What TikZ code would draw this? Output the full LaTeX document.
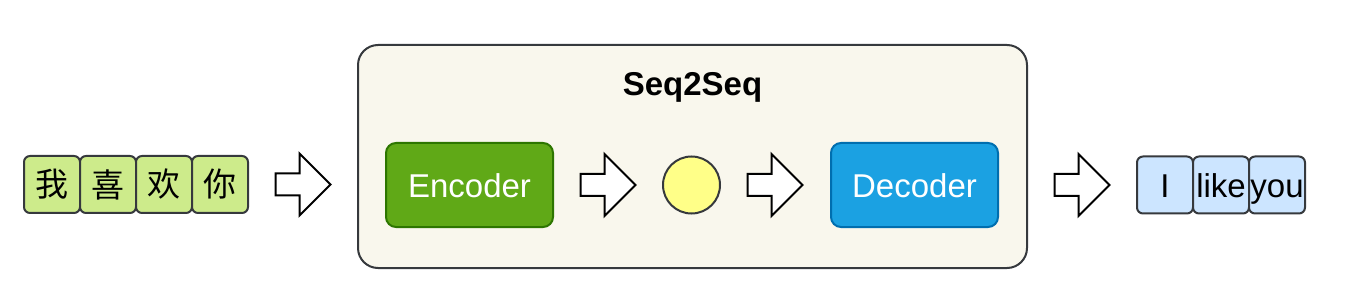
\documentclass[tikz,border=0pt]{standalone}
\usepackage{fontspec}
\setmainfont{Liberation Sans}
\newfontfamily\cjkfont{Noto Sans CJK SC}
\usetikzlibrary{positioning,shapes.arrows}
\definecolor{tokgreen}{RGB}{205,235,139}
\definecolor{tokblue}{RGB}{204,229,255}
\definecolor{edgegray}{RGB}{54,57,61}
\definecolor{encgreen}{RGB}{96,169,23}
\definecolor{encedge}{RGB}{45,118,0}
\definecolor{decblue}{RGB}{27,161,226}
\definecolor{decedge}{RGB}{0,110,175}
\definecolor{ctxyellow}{RGB}{255,255,136}
\definecolor{panelbg}{RGB}{249,247,237}

\begin{document}
\begin{tikzpicture}[
  x=1pt, y=-1pt,
  node distance = 0pt and 0pt,
  token/.style = {
    rectangle, draw=edgegray, line width=2pt, outer sep=0pt,
    rounded corners=6pt, minimum width=56pt, minimum height=57pt,
    inner sep=0pt, text height=24pt, text depth=0pt,
    font=\fontsize{33}{40}\selectfont
  },
  intok/.style = {token, fill=tokgreen, text height=, text depth=,
    font=\cjkfont\fontsize{33}{40}\selectfont},
  outtok/.style = {token, fill=tokblue},
  block/.style = {
    rectangle, rounded corners=10pt, line width=2pt, outer sep=0pt,
    minimum width=167pt, minimum height=84pt, inner sep=0pt,
    text=white, text height=24pt, text depth=0pt,
    font=\fontsize{33}{40}\selectfont
  },
  panel/.style = {
    rectangle, draw=edgegray, fill=panelbg, line width=2pt, outer sep=0pt,
    rounded corners=20pt, minimum width=669pt, minimum height=223pt
  },
  fatarrow/.style = {
    single arrow, draw=black, fill=white, line width=2pt, outer sep=0pt,
    minimum height=55pt, inner sep=0pt, text height=10pt, text depth=10pt,
    single arrow head extend=20pt, single arrow tip angle=90
  }
]
  \useasboundingbox (0,0) rectangle (1346,307);

  % input tokens
  \node[intok] (in1) at (52,184.5) {我};
  \node[intok, right=of in1] (in2) {喜};
  \node[intok, right=of in2] (in3) {欢};
  \node[intok, right=of in3] (in4) {你};

  % model
  \node[panel] (panel) at (692.5,156.5) {};
  \node[font=\bfseries\fontsize{33}{40}\selectfont, text height=24pt, text depth=0pt,
        inner sep=0pt] (title) at (692.5,84) {Seq2Seq};
  \node[block, fill=encgreen, draw=encedge] (enc) at (469.5,185) {Encoder};
  \node[circle, draw=edgegray, fill=ctxyellow, line width=2pt, outer sep=0pt,
        minimum size=57pt, inner sep=0pt] (ctx) at (691.5,185) {};
  \node[block, fill=decblue, draw=decedge] (dec) at (914.5,185) {Decoder};

  % output tokens
  \node[outtok] (out1) at (1165,185) {I};
  \node[outtok, right=of out1] (out2) {like};
  \node[outtok, right=of out2] (out3) {you};

  % block arrows
  \node[fatarrow, right=27.5pt of in4] (a1) {};
  \node[fatarrow, right=27.5pt of enc] (a2) {};
  \node[fatarrow, right=27.5pt of ctx] (a3) {};
  \node[fatarrow, left=27.5pt of out1] (a4) {};
\end{tikzpicture}
\end{document}
